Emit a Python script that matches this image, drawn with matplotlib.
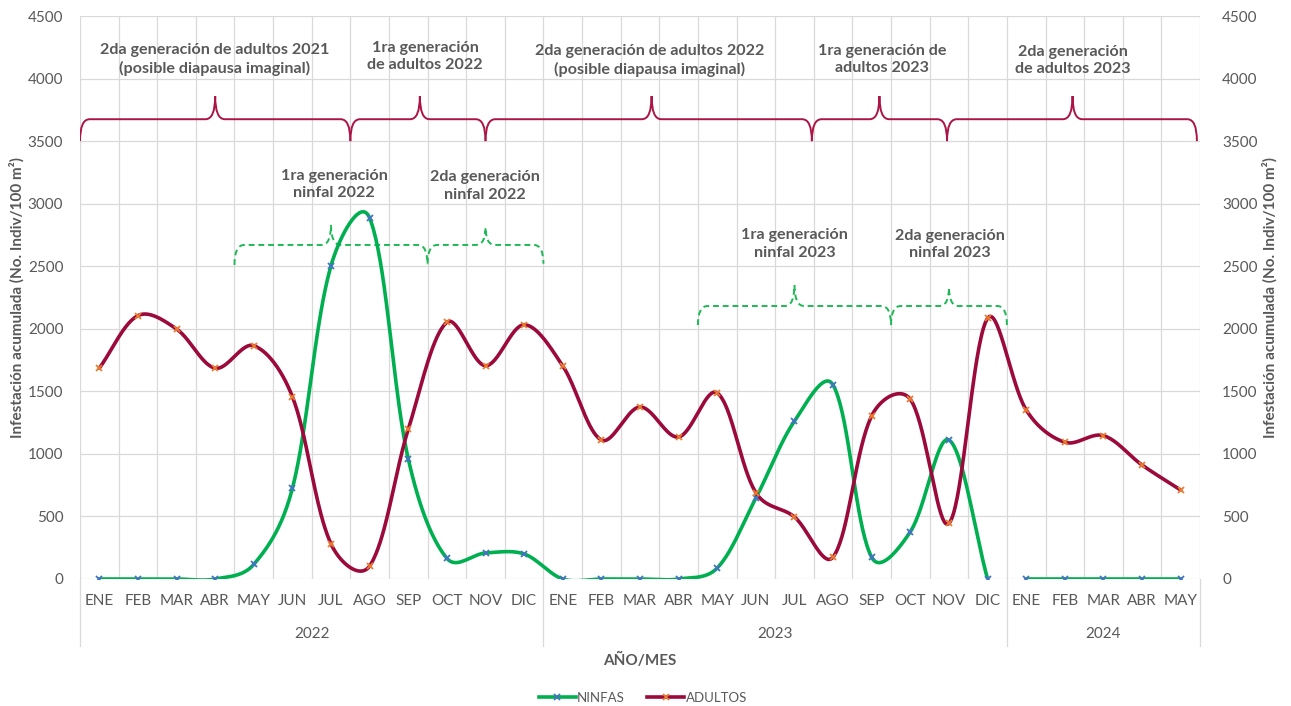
import numpy as np
import matplotlib
matplotlib.use("Agg")
import matplotlib.pyplot as plt
from matplotlib.path import Path
from matplotlib.patches import PathPatch
from matplotlib.lines import Line2D
import matplotlib.transforms as mtransforms

plt.rcParams['font.family'] = ['Lato', 'DejaVu Sans']

############
# Data
months = ['ENE', 'FEB', 'MAR', 'ABR', 'MAY', 'JUN', 'JUL', 'AGO', 'SEP', 'OCT', 'NOV', 'DIC',
          'ENE', 'FEB', 'MAR', 'ABR', 'MAY', 'JUN', 'JUL', 'AGO', 'SEP', 'OCT', 'NOV', 'DIC',
          'ENE', 'FEB', 'MAR', 'ABR', 'MAY']
years = ['2022', '2023', '2024']
months_per_year = [12, 12, 5]

ninfas = [0, 0, 0, 0, 117, 725, 2505, 2885, 960, 165, 208, 200,
          0, 0, 0, 0, 88, 647, 1262, 1550, 173, 378, 1111, 0,
          0, 0, 0, 0, 0]
adultos = [1685, 2105, 1998, 1685, 1865, 1457, 280, 104, 1197, 2052, 1705, 2032,
           1703, 1111, 1375, 1135, 1487, 690, 496, 176, 1305, 1436, 445, 2084,
           1351, 1093, 1146, 911, 711]
# nymph line is broken between DIC 2023 and ENE 2024
ninfas_breaks = [24]

labels_adultos = ['2da generación de adultos 2021\n(posible diapausa imaginal)',
                  '1ra generación\nde adultos 2022',
                  '2da generación de adultos 2022\n(posible diapausa imaginal)',
                  '1ra generación de\nadultos 2023',
                  '2da generación\nde adultos 2023']
labels_ninfas = ['1ra generación\nninfal 2022', '2da generación\nninfal 2022',
                 '1ra generación\nninfal 2023', '2da generación\nninfal 2023']
############

GREEN = '#00B050'
RED = '#9B0A3A'
BRACE_RED = '#AC1446'
GRAY = '#595959'
GRID = '#D9D9D9'

# pixel scale of the plot area, used so the smoothing behaves like Excel's
PX_X = 1120 / 29.0
PX_Y = 563 / 4500.0


def smooth(xs, ys, n=40, a=0.5):
    # smoothed line: bezier segments, arms weighted by (segment length)**a
    xs = np.asarray(xs, float)
    ys = np.asarray(ys, float)
    P = np.column_stack([xs * PX_X, ys * PX_Y])
    m = len(P)
    px, py = [], []
    for i in range(m - 1):
        p0 = P[max(i - 1, 0)]
        p1 = P[i]
        p2 = P[i + 1]
        p3 = P[min(i + 2, m - 1)]
        d01 = np.hypot(*(p1 - p0)) ** a
        d12 = np.hypot(*(p2 - p1)) ** a
        d23 = np.hypot(*(p3 - p2)) ** a
        c1 = p1 + (p2 - p0) * d12 / (d01 + d12) / 3.0
        c2 = p2 - (p3 - p1) * d12 / (d12 + d23) / 3.0
        t = np.linspace(0, 1, n)[:, None]
        pts = ((1 - t) ** 3) * p1 + 3 * ((1 - t) ** 2) * t * c1 + 3 * (1 - t) * t ** 2 * c2 + t ** 3 * p2
        px.extend(pts[:, 0] / PX_X)
        py.extend(pts[:, 1] / PX_Y)
    return np.array(px), np.array(py)


def brace(ax, x0, x1, xm, y0, y1, y2, r, **kw):
    verts = [(x0, y0), (x0, y1), (x0 + r, y1),
             (xm - r, y1), (xm, y1), (xm, y2),
             (xm, y1), (xm + r, y1),
             (x1 - r, y1), (x1, y1), (x1, y0)]
    codes = [Path.MOVETO, Path.CURVE3, Path.CURVE3,
             Path.LINETO, Path.CURVE3, Path.CURVE3,
             Path.CURVE3, Path.CURVE3,
             Path.LINETO, Path.CURVE3, Path.CURVE3]
    ax.add_patch(PathPatch(Path(verts, codes), fill=False, **kw))


fig = plt.figure(figsize=(12.91, 7.06), dpi=100)
ax = fig.add_axes([80 / 1291, 1 - 579 / 706, 1120 / 1291, 563 / 706])

x = np.arange(len(months))
ax.set_xlim(-0.5, len(months) - 0.5)
ax.set_ylim(0, 4500)

# grid
for b in np.arange(-0.5, len(months), 1.0):
    ax.axvline(b, color=GRID, lw=0.9, zorder=0)
for v in range(0, 4501, 500):
    ax.axhline(v, color=GRID, lw=0.9, zorder=0)
for s in ax.spines.values():
    s.set_visible(False)

# series
segs = [0] + ninfas_breaks + [len(months)]
for a, b in zip(segs[:-1], segs[1:]):
    sx, sy = smooth(x[a:b], ninfas[a:b])
    ax.plot(sx, sy, color=GREEN, lw=2.6, zorder=3, solid_capstyle='round')
sx, sy = smooth(x, adultos)
ax.plot(sx, sy, color=RED, lw=2.6, zorder=3, solid_capstyle='round')
ax.plot(x, ninfas, ls='none', marker='x', ms=4.5, mew=1.3, color='#4472C4', zorder=4)
ax.plot(x, adultos, ls='none', marker='x', ms=4.5, mew=1.3, color='#ED7D31', zorder=4)

# braces for adult generations
rb = dict(color=BRACE_RED, lw=1.4, zorder=2)
for x0, x1, xm in [(-0.5, 6.5, 3.0), (6.5, 10.0, 8.3), (10.0, 18.45, 14.3),
                   (18.45, 21.95, 20.2), (21.95, 28.42, 25.2)]:
    brace(ax, x0, x1, xm, 3500, 3675, 3860, 0.25, **rb)

# dashed braces for nymph generations
gb = dict(color='#1DB954', lw=1.4, ls=(0, (3, 2)), zorder=2)
for x0, x1, xm, y0, y1, y2 in [(3.5, 8.5, 6.0, 2510, 2670, 2830),
                               (8.5, 11.5, 10.0, 2520, 2670, 2810),
                               (15.5, 20.5, 18.0, 2030, 2182, 2350),
                               (20.5, 23.5, 22.0, 2030, 2182, 2330)]:
    brace(ax, x0, x1, xm, y0, y1, y2, 0.25, **gb)

tkw = dict(ha='center', va='center', fontsize=11.6, fontweight='bold', color=GRAY,
           linespacing=1.3, zorder=5)
for (tx, ty), lab in zip([(2.98, 4150), (8.44, 4178), (14.26, 4142), (20.26, 4153), (25.2, 4146)],
                         labels_adultos):
    ax.text(tx, ty, lab, **tkw)
for (tx, ty), lab in zip([(6.08, 3153), (9.99, 3141), (18.0, 2678), (22.02, 2674)], labels_ninfas):
    ax.text(tx, ty, lab, **tkw)

# axes ticks
ax.set_xticks(x)
ax.set_xticklabels(months, fontsize=11, color=GRAY)
ax.tick_params(axis='x', length=0, pad=11)
ax.set_yticks(range(0, 4501, 500))
ax.tick_params(axis='y', length=0, labelsize=11, labelcolor=GRAY, pad=12)

ax2 = ax.twinx()
ax2.set_ylim(0, 4500)
ax2.set_yticks(range(0, 4501, 500))
ax2.tick_params(axis='y', length=0, labelsize=11, labelcolor=GRAY, pad=16)
for s in ax2.spines.values():
    s.set_visible(False)

# multi-level year axis
trans = mtransforms.blended_transform_factory(ax.transData, ax.transAxes)
start = 0
bounds = [-0.5]
for yr, n in zip(years, months_per_year):
    ax.text(start + (n - 1) / 2.0, -0.098, yr, transform=trans, ha='center', va='center',
            fontsize=11, color=GRAY)
    start += n
    bounds.append(start - 0.5)
for b in bounds:
    ax.add_line(Line2D([b, b], [0, -0.119], transform=trans, color=GRID, lw=0.9, clip_on=False))

fig.text(640 / 1291, 1 - 660 / 706, 'AÑO/MES', ha='center', va='center',
         fontsize=11, fontweight='bold', color=GRAY)
ylab = 'Infestación acumulada (No. Indiv/100 m²)'
fig.text(17 / 1291, 1 - 298 / 706, ylab, rotation=90, ha='center', va='center',
         fontsize=11, fontweight='bold', color=GRAY)
fig.text(1270 / 1291, 1 - 298 / 706, ylab, rotation=90, ha='center', va='center',
         fontsize=11, fontweight='bold', color=GRAY)

handles = [Line2D([], [], color=GREEN, lw=2.6, marker='x', ms=4.5, mew=1.3, mec='#4472C4'),
           Line2D([], [], color=RED, lw=2.6, marker='x', ms=4.5, mew=1.3, mec='#ED7D31')]
leg = fig.legend(handles, ['NINFAS', 'ADULTOS'], loc='center', bbox_to_anchor=(643 / 1291, 1 - 698 / 706),
                 ncol=2, frameon=False, fontsize=9.5, handlelength=2.8, handletextpad=0.1,
                 columnspacing=1.7)
for t in leg.get_texts():
    t.set_color(GRAY)

fig.savefig('out.png', dpi=100)
